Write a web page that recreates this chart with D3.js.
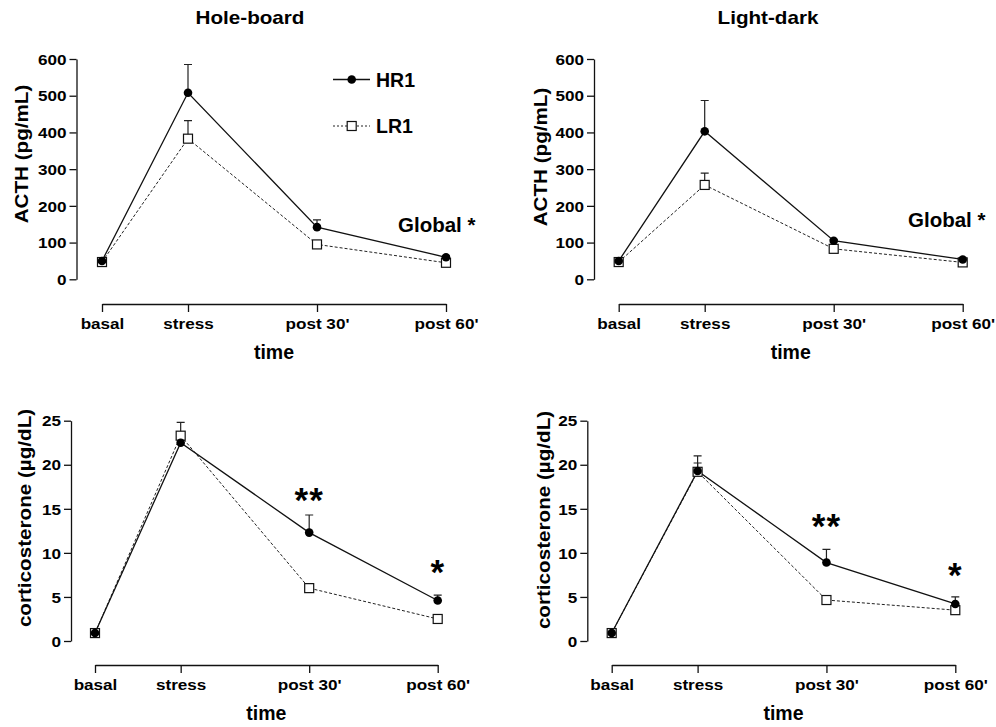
<!DOCTYPE html>
<html><head><meta charset="utf-8">
<script src="https://cdn.jsdelivr.net/npm/d3@7"></script>
<style>
body{margin:0;background:#fff}
svg{display:block}
text{font-family:"Liberation Sans",Arial,Helvetica,sans-serif;font-weight:bold;fill:#000}
</style>
</head><body>
<svg id="c" width="996" height="727"></svg>
<script>
// ---------- data ----------
const times = [-20, 0, 30, 60];
const timeLabels = ["basal", "stress", "post 30'", "post 60'"];
const acthTicks = [0, 100, 200, 300, 400, 500, 600];
const cortTicks = [0, 5, 10, 15, 20, 25];
const seriesNames = ["HR1", "LR1"];
const panelTitles = ["Hole-board", "Light-dark"];

// Hole-board ACTH (pg/mL)
const hbActhHR1 = [50, 508, 142, 60];
const hbActhHR1Sem = [4, 77, 20, 4];
const hbActhLR1 = [47, 383, 95, 45];
const hbActhLR1Sem = [4, 49, 4, 4];
// Light-dark ACTH (pg/mL)
const ldActhHR1 = [50, 403, 105, 54];
const ldActhHR1Sem = [4, 84, 4, 4];
const ldActhLR1 = [47, 257, 83, 46];
const ldActhLR1Sem = [4, 32, 4, 4];
// Hole-board corticosterone (µg/dL)
const hbCortHR1 = [0.9, 22.5, 12.3, 4.6];
const hbCortHR1Sem = [0.2, 0.5, 2.0, 0.6];
const hbCortLR1 = [0.9, 23.3, 6.0, 2.5];
const hbCortLR1Sem = [0.2, 1.5, 0.3, 0.2];
// Light-dark corticosterone (µg/dL)
const ldCortHR1 = [0.9, 19.3, 8.9, 4.2];
const ldCortHR1Sem = [0.2, 1.7, 1.5, 0.8];
const ldCortLR1 = [0.9, 19.2, 4.65, 3.5];
const ldCortLR1Sem = [0.2, 1.0, 0.2, 0.2];

// significance marks: [timeIndex, label]
const hbCortSig = [[2, "**"], [3, "*"]];
const ldCortSig = [[2, "**"], [3, "*"]];
const globalLabel = "Global *";

// ---------- layout ----------
const SX = 1.18; // horizontal text stretch seen in the figure
const svg = d3.select("#c");

const panels = [
  {title: panelTitles[0], titleX: 250, ylab: "ACTH (pg/mL)", ylabX: 22, ylabY: 154,
   ax: 76.5, x0: 102, x1: 446, y0: 279.3, y1: 59, xAxisY: 304, yMax: 600, ticks: acthTicks,
   hr: hbActhHR1, hrE: hbActhHR1Sem, lr: hbActhLR1, lrE: hbActhLR1Sem,
   global: {x: 398, y: 232}, legend: true, sig: [], sigY: []},
  {title: panelTitles[1], titleX: 768, ylab: "ACTH (pg/mL)", ylabX: 541, ylabY: 157,
   ax: 594, x0: 618.7, x1: 962.7, y0: 279.3, y1: 59, xAxisY: 304, yMax: 600, ticks: acthTicks,
   hr: ldActhHR1, hrE: ldActhHR1Sem, lr: ldActhLR1, lrE: ldActhLR1Sem,
   global: {x: 908, y: 227}, legend: false, sig: [], sigY: []},
  {title: null, ylab: "corticosterone (\u00b5g/dL)", ylabX: 25.5, ylabY: 518,
   ax: 71, x0: 95, x1: 437.7, y0: 641, y1: 420.7, xAxisY: 665, yMax: 25, ticks: cortTicks,
   hr: hbCortHR1, hrE: hbCortHR1Sem, lr: hbCortLR1, lrE: hbCortLR1Sem,
   global: null, legend: false, sig: hbCortSig, sigY: [491.7, 564]},
  {title: null, ylab: "corticosterone (\u00b5g/dL)", ylabX: 544, ylabY: 520,
   ax: 587.3, x0: 611.7, x1: 955.3, y0: 641, y1: 420.7, xAxisY: 665, yMax: 25, ticks: cortTicks,
   hr: ldCortHR1, hrE: ldCortHR1Sem, lr: ldCortLR1, lrE: ldCortLR1Sem,
   global: null, legend: false, sig: ldCortSig, sigY: [518, 566.7]}
];

function label(g, x, y, str, size, sx, rot, anchor) {
  let tf = `translate(${x},${y})`;
  if (rot) tf += ` rotate(${rot})`;
  if (sx && sx !== 1) tf += ` scale(${sx},1)`;
  return g.append("text").attr("transform", tf).attr("font-size", size)
    .attr("text-anchor", anchor || "middle").text(str);
}

function stretch(sel) {
  sel.each(function () {
    const t = d3.select(this);
    const xx = +t.attr("x") || 0;
    t.attr("x", xx / SX).attr("transform", `scale(${SX},1)`);
  });
}

function drawPanel(p) {
  const x = d3.scaleLinear().domain([times[0], times[times.length - 1]]).range([p.x0, p.x1]);
  const y = d3.scaleLinear().domain([0, p.yMax]).range([p.y0, p.y1]);
  const g = svg.append("g");

  // y axis
  const ya = g.append("g").attr("transform", `translate(${p.ax},0)`)
    .call(d3.axisLeft(y).tickValues(p.ticks).tickSize(7).tickSizeOuter(0).tickPadding(3));
  ya.attr("font-family", null).attr("font-size", 14.5);
  ya.selectAll("path,line").attr("stroke", "#111").attr("stroke-width", 1.3);
  ya.selectAll("text").attr("dy", "0.36em");
  stretch(ya.selectAll("text"));

  // x axis
  const xa = g.append("g").attr("transform", `translate(0,${p.xAxisY})`)
    .call(d3.axisBottom(x).tickValues(times).tickFormat((d, i) => timeLabels[i]).tickSize(8).tickSizeOuter(0));
  xa.attr("font-family", null).attr("font-size", 14.5);
  xa.selectAll("path,line").attr("stroke", "#111").attr("stroke-width", 1.3);
  xa.selectAll("text").attr("y", 25).attr("dy", null);
  stretch(xa.selectAll("text"));

  // axis titles
  label(g, (p.x0 + p.x1) / 2, p.xAxisY + 55, "time", 19.5, 1, 0, "middle");
  label(g, p.ylabX, p.ylabY, p.ylab, 17.5, SX, -90, "middle").attr("dominant-baseline", "central");
  if (p.title) label(g, p.titleX, 24, p.title, 17.5, SX, 0, "middle");

  const toPts = (vals, errs) => vals.map((v, i) => ({t: times[i], v: v, e: errs[i]}));
  const hr = toPts(p.hr, p.hrE), lr = toPts(p.lr, p.lrE);
  const line = d3.line().x(d => x(d.t)).y(d => y(d.v));

  // error bars (upper only)
  [lr, hr].forEach(s => {
    g.append("g").selectAll("path").data(s).join("path")
      .attr("d", d => `M${x(d.t)},${y(d.v)}V${y(d.v + d.e)}M${x(d.t) - 4},${y(d.v + d.e)}H${x(d.t) + 4}`)
      .attr("stroke", "#222").attr("stroke-width", 1.2).attr("fill", "none");
  });

  // lines
  g.append("path").datum(lr).attr("d", line).attr("fill", "none").attr("stroke", "#222")
    .attr("stroke-width", 1).attr("stroke-dasharray", "3,2");
  g.append("path").datum(hr).attr("d", line).attr("fill", "none").attr("stroke", "#111")
    .attr("stroke-width", 1.3);

  // markers
  g.append("g").selectAll("rect").data(lr).join("rect")
    .attr("x", d => x(d.t) - 4.5).attr("y", d => y(d.v) - 4.5).attr("width", 9).attr("height", 9)
    .attr("fill", "#fff").attr("stroke", "#111").attr("stroke-width", 1.2);
  g.append("g").selectAll("circle").data(hr).join("circle")
    .attr("cx", d => x(d.t)).attr("cy", d => y(d.v)).attr("r", 4.3).attr("fill", "#000");

  // legend
  if (p.legend) {
    const lg = g.append("g");
    const lx0 = 333, lx1 = 370, lm = 351.7;
    const rows = [{name: seriesNames[0], y: 79.5}, {name: seriesNames[1], y: 126}];
    lg.append("line").attr("x1", lx0).attr("x2", lx1).attr("y1", rows[0].y).attr("y2", rows[0].y)
      .attr("stroke", "#111").attr("stroke-width", 1.3);
    lg.append("circle").attr("cx", lm).attr("cy", rows[0].y).attr("r", 4.3).attr("fill", "#000");
    lg.append("line").attr("x1", lx0).attr("x2", lx1).attr("y1", rows[1].y).attr("y2", rows[1].y)
      .attr("stroke", "#222").attr("stroke-width", 1).attr("stroke-dasharray", "2,2");
    lg.append("rect").attr("x", lm - 4.5).attr("y", rows[1].y - 4.5).attr("width", 9).attr("height", 9)
      .attr("fill", "#fff").attr("stroke", "#111").attr("stroke-width", 1.2);
    rows.forEach(r => label(lg, 376, r.y + 7, r.name, 19.5, 1, 0, "start"));
  }

  if (p.global) label(g, p.global.x, p.global.y, globalLabel, 20.5, 1, 0, "start");

  p.sig.forEach((s, k) => {
    label(g, x(times[s[0]]), p.sigY[k] + 20, s[1], 35, 1, 0, "middle")
      .attr("font-weight", "normal").attr("font-family", "DejaVu Sans").attr("letter-spacing", 1);
  });
}

panels.forEach(drawPanel);
</script>
</body></html>
